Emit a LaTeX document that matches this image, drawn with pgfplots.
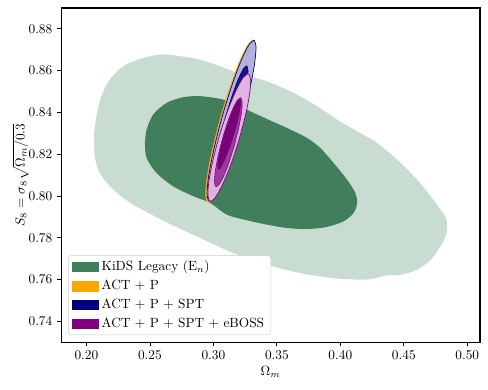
\documentclass[border=0pt]{standalone}
\usepackage{pgfplots}
\pgfplotsset{compat=1.18}

\definecolor{kidslight}{HTML}{C8DCD2}
\definecolor{kidsdark}{HTML}{417F5C}
\definecolor{actorange}{HTML}{FFA500}
\definecolor{sptlight}{HTML}{B2B2DC}
\definecolor{sptdark}{HTML}{161680}
\definecolor{navyc}{HTML}{000080}
\definecolor{bosslight}{HTML}{E0B4E0}
\definecolor{bossmid}{HTML}{9B3C9B}
\definecolor{bossdark}{HTML}{780078}
\definecolor{purplec}{HTML}{800080}

\pgfplotsset{
  patch legend/.style={legend image code/.code={
      \fill[##1, sharp corners] (0pt,-3.6pt) rectangle (19.5pt,3.6pt);}},
}

\begin{document}
\begin{tikzpicture}
\begin{axis}[
  scale only axis, width=314pt, height=250.5pt,
  xmin=0.18, xmax=0.51, ymin=0.73, ymax=0.89,
  xtick={0.20,0.25,...,0.50}, ytick={0.74,0.76,...,0.88},
  xticklabel style={/pgf/number format/.cd, fixed, fixed zerofill, precision=2},
  yticklabel style={/pgf/number format/.cd, fixed, fixed zerofill, precision=2},
  tick align=outside, tick pos=left, major tick length=3pt,
  axis line style={line width=0.8pt},
  every tick/.style={black, line width=0.6pt},
  xlabel={$\Omega_m$}, ylabel={$S_8=\sigma_8\sqrt{\Omega_m/0.3}$},
  xlabel style={yshift=2pt}, ylabel style={yshift=-7pt},
  legend cell align=left,
  legend style={at={(0.017,0.021)}, anchor=south west, draw=black!20,
    rounded corners=2pt, fill=white,
    row sep=1.5pt, inner xsep=3pt, inner ysep=2pt, font=\normalsize},
]
% KiDS outer (2 sigma)
\addplot[fill=kidslight, draw=none, smooth, forget plot] coordinates {
(0.2061,0.8302) (0.2079,0.8382) (0.2118,0.8478) (0.2184,0.8557) (0.2289,0.8621)
(0.2421,0.8656) (0.2579,0.8677) (0.2711,0.8672) (0.2895,0.8653) (0.3053,0.8621)
(0.3211,0.8586) (0.3421,0.8549) (0.3632,0.8493) (0.3816,0.8430) (0.3974,0.8366)
(0.4132,0.8310) (0.4289,0.8254) (0.4447,0.8174) (0.4605,0.8078) (0.4711,0.7999)
(0.4789,0.7935) (0.4837,0.7887) (0.4837,0.7823) (0.4789,0.7759) (0.4711,0.7695)
(0.4605,0.7647) (0.4474,0.7623) (0.4368,0.7620) (0.4237,0.7602) (0.4132,0.7600)
(0.3947,0.7607) (0.3684,0.7631) (0.3421,0.7671) (0.3158,0.7727) (0.2895,0.7799)
(0.2632,0.7874) (0.2368,0.7959) (0.2211,0.8031) (0.2105,0.8110) (0.2066,0.8190)
(0.2061,0.8302)};
% KiDS inner (1 sigma)
\addplot[fill=kidsdark, draw=none, smooth, forget plot] coordinates {
(0.2461,0.8254) (0.2474,0.8318) (0.2526,0.8390) (0.2632,0.8446) (0.2763,0.8473)
(0.2895,0.8478) (0.3053,0.8465) (0.3158,0.8446) (0.3289,0.8406) (0.3421,0.8369)
(0.3579,0.8326) (0.3737,0.8278) (0.3842,0.8230) (0.3947,0.8158) (0.4053,0.8078)
(0.4118,0.8015) (0.4132,0.7967) (0.4105,0.7919) (0.4026,0.7879) (0.3895,0.7852)
(0.3737,0.7842) (0.3579,0.7847) (0.3421,0.7863) (0.3263,0.7884) (0.3105,0.7911)
(0.2974,0.7967) (0.2842,0.7999) (0.2684,0.8046) (0.2553,0.8110) (0.2474,0.8182)
(0.2461,0.8254)};
% ACT + P
\addplot[fill=actorange, draw=actorange, line width=0.5pt, smooth, forget plot] coordinates {
(0.3316,0.8748) (0.3333,0.8713) (0.3320,0.8625) (0.3279,0.8496) (0.3216,0.8347)
(0.3141,0.8199) (0.3065,0.8076) (0.3000,0.7996) (0.2956,0.7972) (0.2939,0.8007)
(0.2952,0.8095) (0.2993,0.8224) (0.3056,0.8374) (0.3131,0.8521) (0.3207,0.8644)
(0.3272,0.8724) (0.3316,0.8748)};
% ACT + P + SPT
\addplot[fill=sptlight, draw=navyc, line width=0.5pt, smooth, forget plot] coordinates {
(0.3321,0.8746) (0.3336,0.8712) (0.3322,0.8624) (0.3281,0.8497) (0.3219,0.8349)
(0.3145,0.8203) (0.3071,0.8081) (0.3008,0.8002) (0.2966,0.7978) (0.2950,0.8012)
(0.2964,0.8100) (0.3005,0.8227) (0.3067,0.8375) (0.3141,0.8521) (0.3215,0.8643)
(0.3278,0.8722) (0.3321,0.8746)};
\addplot[fill=sptdark, draw=navyc, line width=0.4pt, smooth, forget plot] coordinates {
(0.3263,0.8624) (0.3273,0.8601) (0.3263,0.8542) (0.3235,0.8456) (0.3193,0.8357)
(0.3143,0.8258) (0.3094,0.8176) (0.3051,0.8123) (0.3023,0.8106) (0.3013,0.8129)
(0.3023,0.8188) (0.3051,0.8274) (0.3093,0.8374) (0.3143,0.8472) (0.3192,0.8554)
(0.3235,0.8608) (0.3263,0.8624)};
% ACT + P + SPT + eBOSS
\addplot[fill=bosslight, draw=purplec, line width=0.5pt, smooth, forget plot] coordinates {
(0.3276,0.8586) (0.3293,0.8558) (0.3285,0.8487) (0.3252,0.8385) (0.3200,0.8267)
(0.3137,0.8150) (0.3071,0.8054) (0.3014,0.7992) (0.2974,0.7974) (0.2957,0.8003)
(0.2965,0.8073) (0.2998,0.8175) (0.3050,0.8294) (0.3114,0.8410) (0.3179,0.8506)
(0.3236,0.8568) (0.3276,0.8586)};
\addplot[fill=bossmid, draw=purplec, line width=0.4pt, smooth, forget plot] coordinates {
(0.3215,0.8471) (0.3227,0.8451) (0.3222,0.8402) (0.3201,0.8331) (0.3168,0.8249)
(0.3127,0.8168) (0.3085,0.8101) (0.3048,0.8058) (0.3021,0.8045) (0.3009,0.8065)
(0.3014,0.8114) (0.3035,0.8185) (0.3068,0.8267) (0.3109,0.8348) (0.3151,0.8415)
(0.3188,0.8458) (0.3215,0.8471)};
\addplot[fill=bossdark, draw=none, smooth, forget plot] coordinates {
(0.3211,0.8466) (0.3218,0.8450) (0.3211,0.8412) (0.3191,0.8355) (0.3161,0.8290)
(0.3126,0.8226) (0.3090,0.8172) (0.3060,0.8137) (0.3040,0.8126) (0.3032,0.8142)
(0.3039,0.8180) (0.3059,0.8237) (0.3089,0.8302) (0.3124,0.8366) (0.3160,0.8420)
(0.3190,0.8455) (0.3211,0.8466)};

\addlegendimage{patch legend, kidsdark}
\addlegendentry{KiDS Legacy (E$_n$)}
\addlegendimage{patch legend, actorange}
\addlegendentry{ACT $+$ P}
\addlegendimage{patch legend, navyc}
\addlegendentry{ACT $+$ P $+$ SPT}
\addlegendimage{patch legend, purplec}
\addlegendentry{ACT $+$ P $+$ SPT $+$ eBOSS}
\end{axis}
\path ([shift={(-45.75pt,-35.25pt)}]current axis.south west)
  rectangle ([shift={(6pt,6pt)}]current axis.north east);
\end{tikzpicture}
\end{document}
